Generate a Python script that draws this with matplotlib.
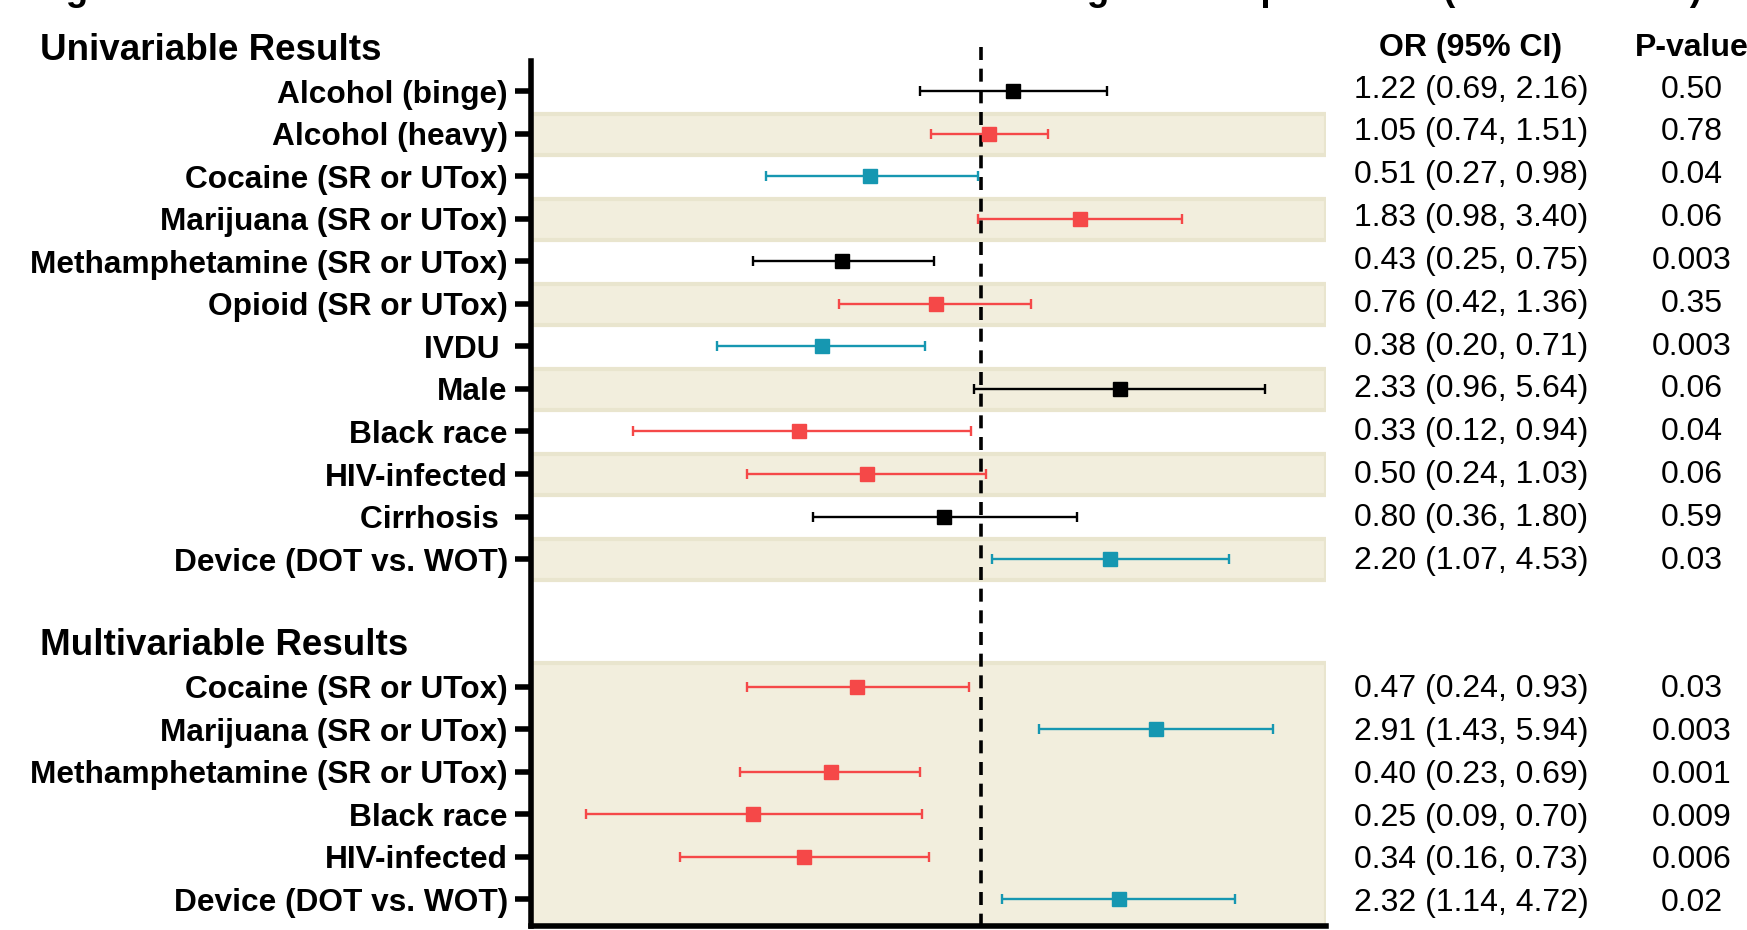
import matplotlib.pyplot as plt
from matplotlib.transforms import blended_transform_factory

plt.rcParams['font.family'] = ['Liberation Sans', 'DejaVu Sans']

# univariable odds ratios
uni_labels = ["Alcohol (binge)", "Alcohol (heavy)", "Cocaine (SR or UTox)",
              "Marijuana (SR or UTox)", "Methamphetamine (SR or UTox)",
              "Opioid (SR or UTox)", "IVDU ", "Male", "Black race",
              "HIV-infected", "Cirrhosis ", "Device (DOT vs. WOT)"]
uni_or = [1.22, 1.05, 0.51, 1.83, 0.43, 0.76, 0.38, 2.33, 0.33, 0.50, 0.80, 2.20]
uni_lo = [0.69, 0.74, 0.27, 0.98, 0.25, 0.42, 0.20, 0.96, 0.12, 0.24, 0.36, 1.07]
uni_hi = [2.16, 1.51, 0.98, 3.40, 0.75, 1.36, 0.71, 5.64, 0.94, 1.03, 1.80, 4.53]
uni_p = ["0.50", "0.78", "0.04", "0.06", "0.003", "0.35", "0.003", "0.06",
         "0.04", "0.06", "0.59", "0.03"]
uni_col = ["k", "r", "t", "r", "k", "r", "t", "k", "r", "r", "k", "t"]

# multivariable odds ratios
multi_labels = ["Cocaine (SR or UTox)", "Marijuana (SR or UTox)",
                "Methamphetamine (SR or UTox)", "Black race", "HIV-infected",
                "Device (DOT vs. WOT)"]
multi_or = [0.47, 2.91, 0.40, 0.25, 0.34, 2.32]
multi_lo = [0.24, 1.43, 0.23, 0.09, 0.16, 1.14]
multi_hi = [0.93, 5.94, 0.69, 0.70, 0.73, 4.72]
multi_p = ["0.03", "0.003", "0.001", "0.009", "0.006", "0.02"]
multi_col = ["r", "t", "r", "r", "r", "t"]

colors = {"k": "#000000", "r": "#F54848", "t": "#1697B1"}
band = "#F2EEDD"
band_edge = "#E9E5CE"

uni_y = list(range(len(uni_labels)))
multi_y = list(range(14, 14 + len(multi_labels)))

fig = plt.figure(figsize=(17.47, 9.30), dpi=100)
ax = fig.add_axes([0.3042, 0.0043, 0.4548, 0.9301])
ax.set_xscale('log')
ax.set_xlim(0.0646, 8.2)
ax.set_ylim(19.63, -0.713)

# shaded rows
for y in uni_y[1::2]:
    ax.axhspan(y - 0.47, y + 0.49, facecolor=band, edgecolor=band_edge, lw=3, zorder=0)
ax.axhspan(13.45, 19.9, facecolor=band, edgecolor=band_edge, lw=3, zorder=0)

# reference line at OR = 1
ax.plot([1, 1], [-1.04, 19.63], color='black', lw=2.6, ls=(0, (3.6, 2.4)),
        clip_on=False, zorder=1)

ors = uni_or + multi_or
los = uni_lo + multi_lo
his = uni_hi + multi_hi
cols = uni_col + multi_col
ys = uni_y + multi_y
for o, lo, hi, c, y in zip(ors, los, his, cols, ys):
    ax.errorbar(o, y, xerr=[[o - lo], [hi - o]], fmt='s', color=colors[c],
                ms=10.5, mec=colors[c], capsize=3.6, elinewidth=1.7,
                capthick=1.7, zorder=3)

ax.set_yticks(ys)
ax.set_yticklabels(uni_labels + multi_labels, fontsize=22.8, fontweight='bold')
ax.tick_params(axis='y', which='both', length=11.5, width=4, pad=5.5)
ax.tick_params(axis='y', which='minor', left=False)
ax.tick_params(axis='x', which='both', bottom=False, labelbottom=False)
ax.spines['top'].set_visible(False)
ax.spines['right'].set_visible(False)
ax.spines['left'].set_linewidth(4)
ax.spines['bottom'].set_linewidth(4)
ax.patch.set_alpha(0)

tr = blended_transform_factory(fig.transFigure, ax.transData)
ax.text(0.0229, -0.95, "Univariable Results", transform=tr, fontsize=26.5,
        fontweight='bold', ha='left', va='center', clip_on=False)
ax.text(0.0229, 13.03, "Multivariable Results", transform=tr, fontsize=26.5,
        fontweight='bold', ha='left', va='center', clip_on=False)
ax.text(0.842, -1.03, "OR (95% CI)", transform=tr, fontsize=23,
        fontweight='bold', ha='center', va='center', clip_on=False)
ax.text(0.9685, -1.03, "P-value", transform=tr, fontsize=23,
        fontweight='bold', ha='center', va='center', clip_on=False)

pvals = uni_p + multi_p
for o, lo, hi, p, y in zip(ors, los, his, pvals, ys):
    ty = y - 0.04 + 0.007 * y
    ax.text(0.842, ty, f"{o:.2f} ({lo:.2f}, {hi:.2f})", transform=tr,
            fontsize=23, ha='center', va='center', clip_on=False)
    ax.text(0.9685, ty, p, transform=tr, fontsize=23,
            ha='center', va='center', clip_on=False)

# title runs off the top edge
fig.text(0.019, 1.0, "Figure 3. Factors associated with treatment adherence during follow-up",
         fontsize=26.5, fontweight='bold', ha='left', va='baseline')
fig.text(0.9743, 1.0, "(DOT vs. WOT)", fontsize=26.5, fontweight='bold',
         ha='right', va='baseline')

fig.savefig("out.png", dpi=100)
